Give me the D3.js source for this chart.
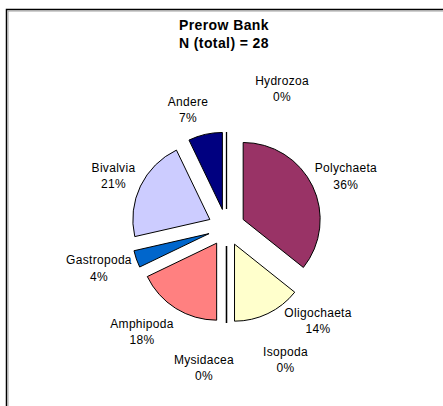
<!DOCTYPE html>
<html>
<head>
<meta charset="utf-8">
<script src="https://cdn.jsdelivr.net/npm/d3@7/dist/d3.min.js"></script>
<style>
  html, body { margin: 0; padding: 0; background: #fff; }
  svg { display: block; }
  text { font-family: "Liberation Sans", Arial, sans-serif; fill: #000; }
</style>
</head>
<body>
<script>
// Prerow Bank benthos composition, counts per taxon (N = 28)
const categories = ["Hydrozoa", "Polychaeta", "Oligochaeta", "Isopoda", "Mysidacea",
                    "Amphipoda", "Gastropoda", "Bivalvia", "Andere"];
const counts = [0, 10, 4, 0, 0, 5, 1, 6, 2];
const titleLines = ["Prerow Bank", "N (total) = 28"];

// Slice fills (zero-count slices collapse to a single outline stroke)
const fills = ["#ffffff", "#993366", "#ffffcc", "#ffffff", "#ffffff",
               "#ff8080", "#0066cc", "#ccccff", "#000080"];

// Label shifts away from the plain radial position, per category
const labelShift = [[55.5, -11], [4, 4], [36, -22.5], [59, 4], [-22.5, 12],
                    [-16.4, -4.6], [-6.7, -2], [2.3, 3.75], [-10, 6.75]];

const W = 443, H = 406;
const cx = 226.5, cy = 227.5, radius = 77, explode = 18.5, labelRadius = 128;

const svg = d3.select("body").append("svg")
  .attr("width", W).attr("height", H);

// Chart-area frame (only top and left edges fall inside the window)
svg.append("path")
  .attr("d", `M6.5,${H + 5} V9.5 H${W + 5}`)
  .attr("fill", "none").attr("stroke", "#000").attr("stroke-width", 1.5);
svg.append("path")
  .attr("d", `M8,${H + 5} V11 H${W + 5}`)
  .attr("fill", "none").attr("stroke", "#a0a0a0").attr("stroke-width", 1);

// Title
svg.append("g").selectAll("text")
  .data(titleLines).join("text")
  .attr("x", 224)
  .attr("y", (d, i) => 29.5 + i * 18.5)
  .attr("text-anchor", "middle")
  .attr("font-size", 14)
  .attr("font-weight", "bold")
  .attr("letter-spacing", 0.4)
  .text(d => d);

const total = d3.sum(counts);
const data = categories.map((name, i) => ({ name, value: counts[i], fill: fills[i], shift: labelShift[i] }));

const pie = d3.pie().sort(null).value(d => d.value);
const arcs = pie(data);
const arc = d3.arc().innerRadius(0).outerRadius(radius);

const mid = d => (d.startAngle + d.endAngle) / 2;

const pieG = svg.append("g").attr("transform", `translate(${cx},${cy})`);

pieG.selectAll("path")
  .data(arcs).join("path")
  .attr("transform", d => `translate(${Math.sin(mid(d)) * explode},${-Math.cos(mid(d)) * explode})`)
  .attr("d", arc)
  .attr("fill", d => d.data.fill)
  .attr("stroke", "#000")
  .attr("stroke-width", d => d.value === 0 ? 1.3 : 1)
  .attr("stroke-linejoin", "miter");

// Data labels: name and rounded percentage
const fmt = v => Math.round(v / total * 100) + "%";
const labels = pieG.selectAll("g.lbl")
  .data(arcs).join("g")
  .attr("class", "lbl")
  .attr("transform", d => {
    const a = mid(d);
    const x = Math.sin(a) * labelRadius + d.data.shift[0];
    const y = -Math.cos(a) * labelRadius + d.data.shift[1];
    return `translate(${x},${y})`;
  });

labels.append("text")
  .attr("text-anchor", "middle")
  .attr("y", -3.75)
  .attr("font-size", 12)
  .attr("letter-spacing", 0.3)
  .text(d => d.data.name);
labels.append("text")
  .attr("text-anchor", "middle")
  .attr("y", 12.75)
  .attr("font-size", 12)
  .attr("letter-spacing", 0.3)
  .text(d => fmt(d.value));
</script>
</body>
</html>
